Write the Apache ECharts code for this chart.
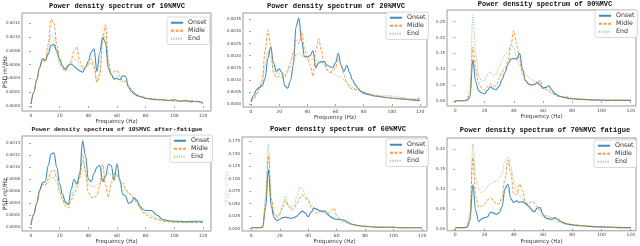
<!DOCTYPE html>
<html><head><meta charset="utf-8">
<script src="https://cdn.jsdelivr.net/npm/echarts@6/dist/echarts.min.js"></script>
<style>html,body{margin:0;padding:0;background:#fff}#c{width:640px;height:246px}</style>
</head><body><div id="c"></div>
<script>
// ---------- DATA ----------
const FREQ = [0,2,4,6,8,10,12,14,16,18,20,22,24,26,28,30,32,34,36,38,40,42,44,46,48,50,52,54,56,58,60,62,64,66,68,70,72,74,76,78,80,84,88,92,96,100,104,108,112,116,120];
const SERIES_NAMES = ['Onset','Midle','End'];
const TITLES = [
  'Power density spectrum of 10%MVC',
  'Power density spectrum of 20%MVC',
  'Power density spectrum of 90%MVC',
  'Power density spectrum of 10%MVC after-fatigue',
  'Power density spectrum of 60%MVC',
  'Power density spectrum of 70%MVC fatigue'
];
const X_TICKS = [0,20,40,60,80,100,120];
const X_NAME = 'Frequency (Hz)';
const Y_NAME = 'PSD m\u00b2/Hz';
const Y_LABELS_1 = ['0.0000','0.0002','0.0004','0.0006','0.0008','0.0010','0.0012'];
const Y_LABELS_2 = ['0.0000','0.0005','0.0010','0.0015','0.0020','0.0025','0.0030','0.0035'];
const Y_LABELS_3 = ['0.00','0.05','0.10','0.15','0.20','0.25'];
const Y_LABELS_4 = ['0.0000','0.0002','0.0004','0.0006','0.0008','0.0010','0.0012','0.0014'];
const Y_LABELS_5 = ['0.000','0.025','0.050','0.075','0.100','0.125','0.150','0.175'];
const Y_LABELS_6 = ['0.00','0.05','0.10','0.15','0.20'];

const P1_ONSET = [0.00003,0.0002,0.00038,0.00056,0.00069,0.00066,0.00075,0.00088,0.00089,0.0008,0.00068,0.00058,0.00053,0.00059,0.00061,0.00058,0.00054,0.00051,0.00049,0.00056,0.00065,0.00078,0.00083,0.0005,0.00078,0.001,0.00092,0.00054,0.00046,0.00039,0.0004,0.00038,0.00044,0.00043,0.00028,0.00021,0.00018,0.00015,0.00014,0.00013,0.00011,0.0001,0.00009,0.00009,0.00008,0.00009,0.00007,0.00008,0.00006,0.00007,0.00004];
const P1_MIDLE = [0.00003,0.0002,0.00038,0.00055,0.00067,0.00065,0.0009,0.00126,0.0012,0.0009,0.00065,0.00056,0.00051,0.00058,0.00066,0.0008,0.00086,0.00065,0.00057,0.00056,0.00062,0.00068,0.00058,0.00034,0.00045,0.00098,0.00118,0.00065,0.00046,0.0005,0.00052,0.00043,0.00036,0.00036,0.0003,0.00024,0.0002,0.00017,0.00014,0.00012,0.00011,0.00011,0.0001,0.00009,0.00008,0.00007,0.00008,0.00007,0.00008,0.00006,0.00005];
const P1_END = [0.00003,0.0002,0.00038,0.00055,0.00066,0.00063,0.0008,0.00103,0.001,0.00076,0.0006,0.00054,0.0005,0.00057,0.00062,0.00068,0.00066,0.00058,0.00055,0.00056,0.0006,0.00062,0.00055,0.00036,0.0005,0.00095,0.00103,0.0006,0.00043,0.0004,0.00043,0.00036,0.00035,0.00033,0.00026,0.00021,0.00018,0.00015,0.00013,0.00012,0.00011,0.0001,0.00009,0.00008,0.00008,0.00008,0.00007,0.00007,0.00007,0.00006,0.00005];

const P2_ONSET = [0.0001,0.00035,0.0006,0.00069,0.00075,0.00105,0.0019,0.00235,0.0017,0.00135,0.00145,0.0013,0.00075,0.00065,0.00095,0.0016,0.0032,0.00355,0.0026,0.00195,0.00195,0.002,0.0022,0.0015,0.0017,0.00175,0.00175,0.0016,0.00155,0.0015,0.0017,0.0021,0.0016,0.00135,0.0016,0.0013,0.001,0.0008,0.00065,0.00052,0.00045,0.00038,0.00033,0.0003,0.00027,0.00025,0.00023,0.00021,0.00018,0.00016,0.00015];
const P2_MIDLE = [0.0001,0.0002,0.0004,0.00065,0.001,0.0022,0.00305,0.0024,0.0013,0.0011,0.00115,0.0011,0.0011,0.0014,0.0017,0.0021,0.00265,0.0025,0.00295,0.0023,0.0019,0.0016,0.00115,0.0022,0.0027,0.0022,0.0017,0.0014,0.0013,0.00135,0.0015,0.0019,0.0016,0.0012,0.0009,0.00068,0.00062,0.0006,0.00058,0.00055,0.0005,0.00042,0.00035,0.0003,0.00026,0.00023,0.00021,0.0002,0.00019,0.0002,0.00026];
const P2_END = [0.0001,0.00025,0.00045,0.00065,0.0009,0.0016,0.0022,0.0019,0.0014,0.0013,0.00125,0.00125,0.0012,0.0013,0.00155,0.0017,0.00205,0.0021,0.002,0.00195,0.0019,0.00185,0.00185,0.0018,0.0018,0.0017,0.0016,0.00145,0.00135,0.00125,0.0012,0.00115,0.0011,0.001,0.0009,0.0008,0.0007,0.00062,0.00058,0.00052,0.00046,0.0004,0.00037,0.00035,0.00034,0.00033,0.0003,0.00026,0.00022,0.0002,0.00019];

const P3_ONSET = [0.001,0.001,0.001,0.001,0.002,0.012,0.13,0.06,0.032,0.026,0.022,0.034,0.045,0.038,0.036,0.047,0.068,0.09,0.115,0.132,0.134,0.132,0.15,0.1,0.065,0.054,0.05,0.052,0.058,0.05,0.04,0.043,0.048,0.035,0.024,0.018,0.014,0.012,0.01,0.008,0.007,0.006,0.005,0.004,0.003,0.003,0.002,0.002,0.002,0.002,0.002];
const P3_MIDLE = [0.001,0.001,0.001,0.001,0.003,0.02,0.17,0.1,0.055,0.04,0.035,0.045,0.054,0.045,0.05,0.072,0.092,0.102,0.125,0.175,0.222,0.18,0.13,0.085,0.063,0.056,0.052,0.05,0.058,0.066,0.042,0.035,0.03,0.025,0.02,0.015,0.014,0.013,0.015,0.01,0.007,0.005,0.004,0.003,0.003,0.002,0.002,0.002,0.002,0.002,0.002];
const P3_END = [0.001,0.001,0.001,0.002,0.006,0.035,0.27,0.15,0.078,0.062,0.065,0.085,0.092,0.078,0.085,0.11,0.13,0.145,0.155,0.175,0.17,0.13,0.11,0.098,0.088,0.075,0.068,0.063,0.06,0.058,0.045,0.04,0.035,0.028,0.022,0.018,0.014,0.011,0.009,0.008,0.007,0.006,0.005,0.004,0.003,0.003,0.003,0.002,0.002,0.002,0.002];

const P4_ONSET = [0.00004,0.00022,0.0004,0.00062,0.00074,0.00076,0.00103,0.00122,0.00124,0.001,0.00072,0.00055,0.00042,0.00038,0.00063,0.0008,0.00072,0.0009,0.00144,0.0012,0.0008,0.00076,0.0009,0.001,0.00103,0.00076,0.00085,0.00105,0.00103,0.00078,0.00106,0.00078,0.00055,0.00052,0.0004,0.00042,0.00049,0.00045,0.00035,0.0003,0.00028,0.00028,0.0002,0.00013,0.00011,0.0001,0.0001,0.00009,0.0001,0.0001,0.0001];
const P4_MIDLE = [0.00004,0.00022,0.0004,0.0006,0.00072,0.0007,0.0008,0.00093,0.00096,0.00082,0.0006,0.00046,0.00035,0.00032,0.00045,0.00056,0.00065,0.00082,0.00122,0.00095,0.00058,0.0005,0.00049,0.00054,0.0007,0.00105,0.0007,0.0005,0.00074,0.0009,0.00088,0.0008,0.00074,0.00065,0.00058,0.00054,0.00048,0.00042,0.00032,0.00025,0.00021,0.00016,0.00013,0.0001,0.00009,0.00008,0.00008,0.00009,0.00008,0.00008,0.00008];
const P4_END = [0.00004,0.00022,0.0004,0.0006,0.00072,0.0007,0.00076,0.00083,0.00083,0.00074,0.00058,0.00048,0.0004,0.00037,0.0005,0.00065,0.00073,0.00085,0.00112,0.0009,0.00072,0.00069,0.00068,0.0007,0.00074,0.0008,0.00088,0.0009,0.00088,0.0009,0.00088,0.00076,0.00068,0.00062,0.00056,0.00052,0.00046,0.0004,0.00033,0.00027,0.00024,0.00019,0.00015,0.00012,0.0001,0.0001,0.00009,0.00009,0.00008,0.00008,0.00008];

const P5_ONSET = [0.002,0.002,0.002,0.002,0.003,0.04,0.118,0.045,0.022,0.016,0.019,0.022,0.023,0.022,0.021,0.022,0.025,0.031,0.035,0.031,0.024,0.033,0.041,0.039,0.036,0.035,0.034,0.028,0.023,0.02,0.019,0.019,0.018,0.016,0.013,0.01,0.008,0.007,0.006,0.005,0.005,0.004,0.003,0.003,0.003,0.003,0.002,0.002,0.002,0.002,0.002];
const P5_MIDLE = [0.002,0.002,0.002,0.002,0.004,0.05,0.145,0.06,0.03,0.025,0.028,0.042,0.057,0.045,0.038,0.04,0.05,0.061,0.067,0.062,0.055,0.043,0.034,0.031,0.033,0.037,0.035,0.031,0.036,0.041,0.026,0.02,0.017,0.014,0.011,0.009,0.008,0.007,0.006,0.005,0.005,0.004,0.004,0.003,0.003,0.003,0.002,0.002,0.002,0.002,0.002];
const P5_END = [0.002,0.002,0.002,0.002,0.005,0.06,0.17,0.06,0.03,0.022,0.03,0.05,0.065,0.048,0.042,0.047,0.065,0.082,0.08,0.066,0.057,0.048,0.042,0.038,0.035,0.032,0.029,0.026,0.023,0.02,0.018,0.016,0.014,0.012,0.01,0.009,0.008,0.007,0.006,0.005,0.004,0.004,0.003,0.003,0.003,0.003,0.002,0.002,0.002,0.002,0.002];

const P6_ONSET = [0.003,0.003,0.003,0.003,0.004,0.02,0.11,0.045,0.018,0.025,0.028,0.03,0.042,0.04,0.036,0.04,0.056,0.1,0.112,0.075,0.066,0.07,0.066,0.068,0.063,0.057,0.048,0.042,0.052,0.053,0.035,0.027,0.025,0.024,0.028,0.024,0.019,0.015,0.012,0.011,0.01,0.008,0.007,0.006,0.005,0.005,0.004,0.004,0.003,0.003,0.003];
const P6_MIDLE = [0.003,0.003,0.003,0.003,0.005,0.03,0.178,0.08,0.055,0.056,0.062,0.072,0.077,0.072,0.062,0.063,0.08,0.125,0.172,0.14,0.088,0.085,0.112,0.095,0.065,0.062,0.068,0.066,0.055,0.046,0.038,0.033,0.03,0.028,0.025,0.021,0.018,0.016,0.014,0.012,0.011,0.009,0.008,0.007,0.006,0.005,0.005,0.004,0.004,0.003,0.003];
const P6_END = [0.003,0.003,0.003,0.003,0.006,0.04,0.212,0.13,0.1,0.09,0.095,0.105,0.113,0.117,0.119,0.125,0.14,0.17,0.18,0.155,0.12,0.095,0.083,0.075,0.068,0.06,0.052,0.046,0.04,0.035,0.03,0.027,0.024,0.021,0.019,0.017,0.016,0.015,0.013,0.012,0.011,0.009,0.008,0.007,0.006,0.005,0.005,0.004,0.004,0.003,0.003];

// ---------- LAYOUT (pixels) ----------
const LAYOUT = [
  {L:22, R:211, T:13, B:111, x0:31, x1:203, y0:106, yt:23.3, tx:117, ty:6, tfs:7.1, xnY:118, leg:[167,17], yName:[5,72,'#333']},
  {L:243, R:427, T:13, B:107, x0:251, x1:420, y0:104, yt:19.3, tx:336, ty:6, tfs:7.2, xnY:116.7, leg:[386,12], yName:null},
  {L:447, R:636, T:10, B:106, x0:455.3, x1:630.7, y0:101, yt:21.7, tx:545, ty:4, tfs:7.0, xnY:116, leg:[595,10], yName:null},
  {L:22, R:211, T:136, B:231, x0:31, x1:203, y0:227.3, yt:143.3, tx:117, ty:129, tfs:6.2, xnY:239.7, leg:[170,135], yName:[5,194,'#333']},
  {L:242, R:427, T:137, B:231, x0:251.3, x1:422, y0:228.7, yt:141, tx:338, ty:129, tfs:7.1, xnY:241, leg:[386,139], yName:[227,187,'#dcdcdc']},
  {L:447, R:636, T:138, B:232, x0:455.3, x1:630.7, y0:230, yt:149, tx:545, ty:130, tfs:7.1, xnY:243, leg:[594,140], yName:null}
];
const COLORS = ['#1f77b4','#ff7f0e','#2ca02c'];

const PANELS = [
  {s:[P1_ONSET,P1_MIDLE,P1_END], yl:Y_LABELS_1},
  {s:[P2_ONSET,P2_MIDLE,P2_END], yl:Y_LABELS_2},
  {s:[P3_ONSET,P3_MIDLE,P3_END], yl:Y_LABELS_3},
  {s:[P4_ONSET,P4_MIDLE,P4_END], yl:Y_LABELS_4},
  {s:[P5_ONSET,P5_MIDLE,P5_END], yl:Y_LABELS_5},
  {s:[P6_ONSET,P6_MIDLE,P6_END], yl:Y_LABELS_6}
];

const FONT = 'DejaVu Sans';
const grid = [], xAxis = [], yAxis = [], series = [], legend = [], graphic = [];

PANELS.forEach((p, i) => {
  const b = LAYOUT[i];
  const yVals = p.yl.map(Number);
  const ytv = yVals[yVals.length - 1];
  const xv = px => (px - b.x0) / (b.x1 - b.x0) * 120;
  const yv = py => (b.y0 - py) / (b.y0 - b.yt) * ytv;
  grid.push({left:b.L, top:b.T, width:b.R-b.L, height:b.B-b.T, show:true, borderColor:'#9a9a9a', borderWidth:1, backgroundColor:'#fff'});
  xAxis.push({
    type:'value', gridIndex:i, min:xv(b.L), max:xv(b.R),
    axisLine:{show:false}, splitLine:{show:false},
    axisTick:{show:true, customValues:X_TICKS, length:2, lineStyle:{color:'#666', width:0.6}},
    axisLabel:{customValues:X_TICKS, fontSize:4.5, color:'#444', margin:2, fontFamily:FONT},
    name:X_NAME, nameLocation:'middle', nameGap:b.xnY - b.B - 2.8,
    nameTextStyle:{fontSize:5.6, color:'#333', fontFamily:FONT}
  });
  yAxis.push({
    type:'value', gridIndex:i, min:yv(b.B), max:yv(b.T),
    axisLine:{show:false}, splitLine:{show:false},
    axisTick:{show:true, customValues:yVals, length:2, lineStyle:{color:'#666', width:0.6}},
    axisLabel:{customValues:yVals, fontSize:4, color:'#444', margin:2, fontFamily:FONT,
      formatter: v => { let best = p.yl[0], d = Infinity; p.yl.forEach(s => { const dd = Math.abs(Number(s) - v); if (dd < d) { d = dd; best = s; } }); return best; }}
  });
  const styles = [
    {color:COLORS[0], width:1.1, type:'solid', opacity:0.85},
    {color:COLORS[1], width:1.0, type:[3,1.6], opacity:0.8},
    {color:COLORS[2], width:1.0, type:[1,1.4], opacity:0.55}
  ];
  p.s.forEach((arr, k) => {
    series.push({
      type:'line', name:SERIES_NAMES[k], xAxisIndex:i, yAxisIndex:i,
      data: FREQ.map((f, j) => [f, arr[j]]),
      symbol:'none', smooth:0.35, smoothMonotone:'x',
      lineStyle:styles[k], itemStyle:{color:COLORS[k]}, z:2+k,
      emphasis:{disabled:true}
    });
  });
  legend.push({
    data:SERIES_NAMES, orient:'vertical', left:b.leg[0], top:b.leg[1],
    itemWidth:12, itemHeight:5, itemGap:1.5, padding:[2.5,3,2.5,3],
    borderColor:'#d0d0d0', borderWidth:0.8, borderRadius:2, backgroundColor:'rgba(255,255,255,0.85)',
    selectedMode:false,
    itemStyle:{opacity:0, borderWidth:0},
    textStyle:{fontSize:6.3, color:'#333', fontFamily:FONT, lineHeight:6.5}
  });
  graphic.push({type:'text', x:b.tx, y:b.ty, z:10, style:{text:TITLES[i], font:'bold ' + b.tfs + 'px "Liberation Mono"', fill:'#111', textAlign:'center', textVerticalAlign:'middle'}});
  if (b.yName) {
    graphic.push({type:'text', x:b.yName[0], y:b.yName[1], rotation:Math.PI/2, z:10, style:{text:Y_NAME, font:'6px "DejaVu Sans"', fill:b.yName[2], textAlign:'center', textVerticalAlign:'middle'}});
  }
});

const chart = echarts.init(document.getElementById('c'), null, {renderer:'canvas', width:640, height:246});
chart.setOption({animation:false, backgroundColor:'#fff', grid, xAxis, yAxis, series, legend, graphic});
</script>
</body></html>
